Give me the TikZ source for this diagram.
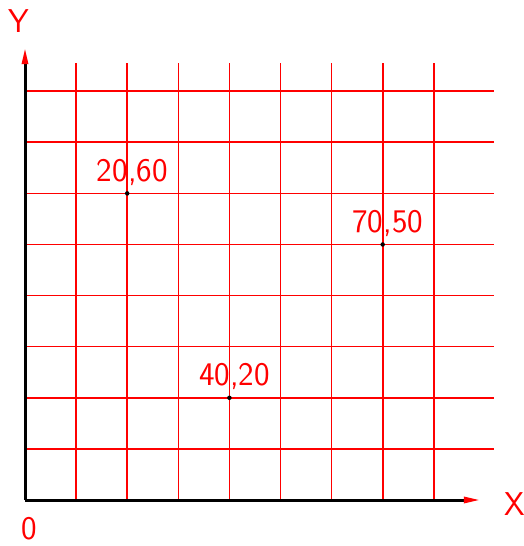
\documentclass[tikz,border=0pt]{standalone}
\usepackage{fontspec}
\usetikzlibrary{arrows.meta}
\definecolor{cadred}{HTML}{FF0000}

\begin{document}
\begin{tikzpicture}[x=5.11pt,y=5.11pt,font=\sffamily\fontsize{33}{33}\selectfont,
  grid/.style={draw=cadred,line width=1.6pt},
  axis/.style={line width=3pt,draw=black,-{Triangle[length=17pt,width=6pt,color=cadred]}},
  dot/.style={circle,fill=black,inner sep=0pt,minimum size=4.5pt},
  lbl/.style={text=cadred,anchor=base,inner sep=0pt},
  axlbl/.style={text=cadred,inner sep=0pt}]

\useasboundingbox (-25pt,-46pt) rectangle (499pt,500pt);

% grid, every 10 units
\foreach \k in {1,...,8}{
  \draw[grid] (10*\k,0)--(10*\k,85.5);
  \draw[grid] (0,10*\k)--(91.8,10*\k);
}

% axes
\coordinate (O) at (0,0);
\coordinate (xend) at (89.2,0);
\coordinate (yend) at (0,88.6);
\draw[axis] (O)--(xend);
\draw[axis] (O)--(yend);
\node[axlbl] (xlbl) at (95.9,-0.8) {X};
\node[axlbl] (ylbl) at (-1.2,93.7) {Y};
\node[axlbl] (olbl) at (0.8,-5.7) {0};

% points with their coordinates
\foreach \name/\px/\py in {a/20/60,b/40/20,c/70/50}{
  \node[dot] (\name) at (\px,\py) {};
  \node[lbl] (\name-lbl) at (\px+1,\py+2.35) {\px,\py};
}

\end{tikzpicture}
\end{document}
